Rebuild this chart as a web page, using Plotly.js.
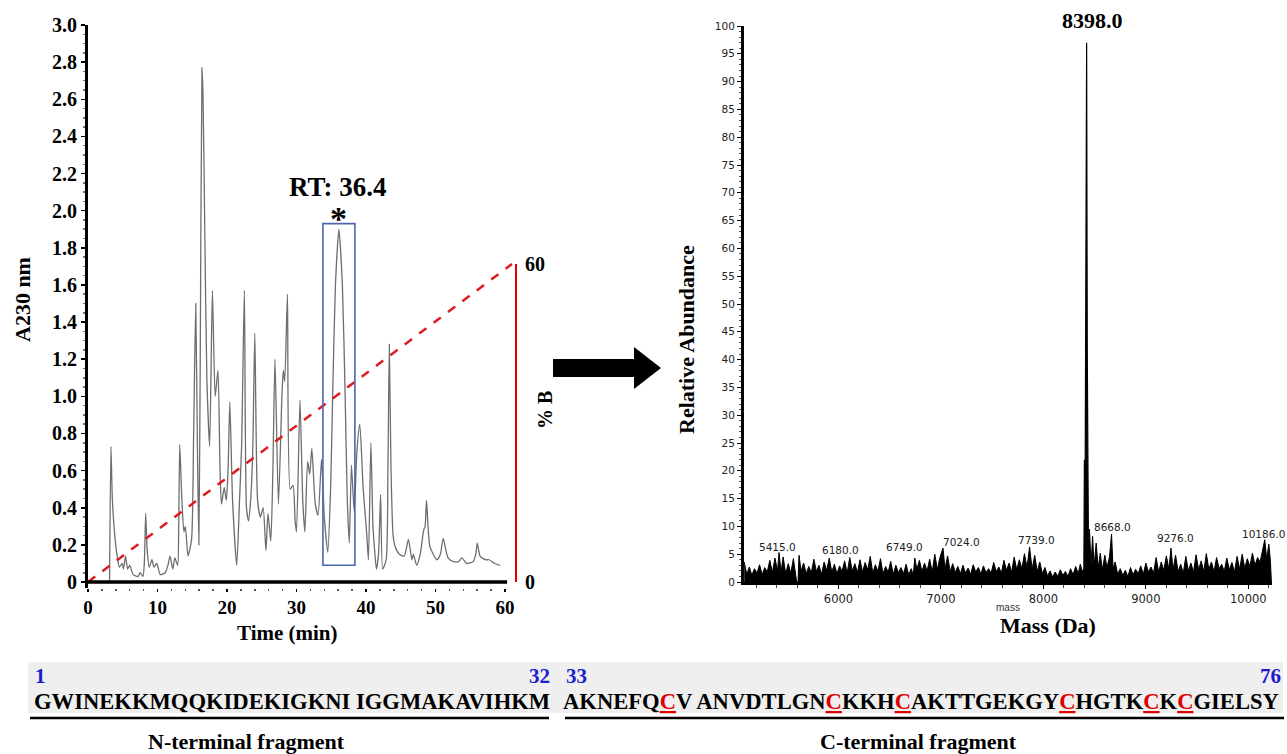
<!DOCTYPE html>
<html><head><meta charset="utf-8">
<script src="https://cdn.plot.ly/plotly-3.0.1.min.js"></script>
<style>html,body{margin:0;padding:0;background:#fff}#chart{width:1287px;height:754px}</style>
</head><body><div id="chart"></div>
<script>
// ---------- HPLC chromatogram (A230 vs time) ----------
const hplcTime = [3.1,3.3,3.5,3.9,4.2,4.5,4.9,5.1,5.4,5.7,6.0,6.5,7.2,7.5,7.9,8.1,8.3,8.5,8.8,9.2,9.5,9.9,10.4,11.1,11.5,11.8,12.2,12.5,12.9,13.05,13.2,13.5,13.8,14.0,14.4,14.9,15.2,15.5,15.75,15.95,16.15,16.4,16.55,16.8,17.1,17.5,17.9,18.3,18.7,19.0,19.2,19.6,19.9,20.15,20.4,20.8,21.4,21.8,22.1,22.5,22.8,23.1,23.4,23.7,24.0,24.4,24.8,25.2,25.6,25.9,26.3,26.6,26.9,27.4,27.9,28.1,28.3,28.7,29.1,29.5,29.8,30.0,30.5,30.9,31.2,31.6,31.9,32.2,32.7,33.1,33.6,34.0,34.5,34.9,35.2,35.6,36.1,36.6,37.0,37.3,37.6,37.9,38.3,38.7,39.1,39.6,40.1,40.35,40.7,41.0,41.2,41.5,41.8,42.1,42.4,42.9,43.15,43.35,43.6,43.9,44.2,44.8,45.5,46.1,46.6,46.8,47.3,47.8,48.3,48.5,48.7,49.2,50.2,50.7,51.1,51.8,52.6,53.3,53.8,54.5,55.4,55.8,56.0,56.4,56.7,57.2,57.7,58.5,59.3];
const hplcAbs  = [0.0,0.73,0.45,0.23,0.14,0.08,0.10,0.07,0.14,0.07,0.09,0.04,0.03,0.05,0.03,0.10,0.37,0.18,0.08,0.12,0.08,0.10,0.04,0.05,0.09,0.14,0.07,0.13,0.09,0.30,0.74,0.45,0.27,0.30,0.14,0.23,0.80,1.50,0.70,0.20,1.20,2.77,2.62,1.90,1.10,0.73,1.57,1.00,1.14,0.60,0.42,0.51,0.44,0.60,0.97,0.44,0.09,0.44,0.73,1.57,0.40,0.33,0.44,0.70,1.34,0.44,0.35,0.40,0.17,0.37,0.22,0.60,1.20,0.42,1.00,1.14,1.08,1.55,0.50,0.52,0.33,0.27,0.98,0.44,0.27,0.65,0.58,0.72,0.42,0.36,0.66,0.35,0.16,0.50,1.00,1.60,1.90,1.60,1.00,0.45,0.21,0.63,0.38,0.71,0.85,0.50,0.26,0.12,0.75,0.30,0.19,0.07,0.15,0.47,0.07,0.12,0.60,1.28,0.60,0.25,0.19,0.15,0.14,0.23,0.12,0.15,0.09,0.15,0.28,0.30,0.44,0.19,0.12,0.15,0.235,0.13,0.11,0.11,0.13,0.10,0.11,0.15,0.21,0.14,0.13,0.12,0.12,0.10,0.09];
// gradient (% B)
const gradTime = [0, 61];
const gradB    = [0, 60];
// highlighted fraction
const boxTime = [33.8, 38.4];
const boxAbs  = [0.09, 1.93];
const rtLabel = 'RT: 36.4';
const absTicks = [0,0.2,0.4,0.6,0.8,1.0,1.2,1.4,1.6,1.8,2.0,2.2,2.4,2.6,2.8,3.0];
const absTickText = ['0','0.2','0.4','0.6','0.8','1.0','1.2','1.4','1.6','1.8','2.0','2.2','2.4','2.6','2.8','3.0'];
const timeTicks = [0,10,20,30,40,50,60];
const bTicks = [0,60];

// ---------- Mass spectrum ----------
const msMass = [5080,5105,5130,5155,5180,5205,5230,5255,5280,5305,5330,5355,5380,5405,5420,5440,5460,5485,5510,5535,5560,5580,5592,5605,5615,5635,5660,5685,5710,5735,5760,5785,5810,5835,5860,5885,5910,5935,5960,5985,6010,6035,6060,6085,6110,6135,6160,6185,6210,6235,6260,6285,6310,6335,6360,6385,6410,6435,6460,6485,6510,6535,6560,6585,6610,6635,6660,6685,6710,6730,6745,6765,6790,6815,6840,6865,6890,6915,6940,6965,6990,7020,7040,7065,7090,7115,7140,7165,7190,7215,7240,7265,7290,7315,7340,7365,7390,7415,7440,7465,7490,7515,7540,7565,7590,7615,7640,7665,7690,7715,7740,7765,7790,7815,7840,7865,7890,7915,7940,7965,7990,8015,8040,8065,8090,8115,8140,8165,8190,8215,8240,8265,8290,8315,8340,8360,8380,8395,8440,8450,8465,8480,8495,8515,8535,8555,8575,8600,8620,8645,8665,8680,8700,8725,8750,8775,8800,8825,8850,8875,8900,8925,8950,8975,9000,9025,9050,9075,9100,9125,9150,9175,9200,9225,9245,9265,9290,9315,9340,9365,9390,9415,9440,9465,9490,9515,9540,9565,9590,9615,9640,9665,9690,9715,9740,9765,9790,9815,9840,9865,9890,9915,9940,9965,9990,10015,10040,10065,10090,10115,10140,10160,10180,10200,10215,10225];
const msInt  = [3.6,1.4,2.7,1.2,2.4,1.6,3.1,1.3,2.6,1.8,3.9,1.7,4.3,2.0,5.3,1.8,4.5,1.5,3.3,1.6,4.2,1.2,0.0,0.0,4.8,2.0,3.4,1.5,2.8,1.7,4.1,1.9,3.0,1.4,3.6,2.1,4.3,1.8,3.2,1.5,2.9,1.9,3.8,1.6,4.4,2.0,3.3,1.7,4.0,1.8,3.5,2.2,4.6,1.6,3.1,1.9,4.2,1.5,2.8,1.8,3.7,1.4,3.0,1.7,2.6,1.5,3.2,1.3,2.4,1.2,4.3,2.3,3.9,1.9,3.4,2.0,4.1,1.8,5.0,2.2,4.4,6.1,2.4,4.7,1.9,3.3,1.7,2.8,1.5,3.0,1.6,2.5,1.4,3.1,1.8,2.6,1.5,2.9,1.7,2.4,1.6,3.5,1.9,2.7,1.6,3.9,2.1,3.4,1.8,4.5,2.2,4.0,2.4,5.1,2.6,6.3,2.3,4.8,1.9,3.6,1.5,2.6,1.1,2.0,0.9,1.8,1.0,2.2,1.2,1.9,1.0,2.4,1.3,2.8,1.5,3.2,1.8,2.5,4.5,9.5,3.0,8.2,2.8,7.0,2.5,5.2,2.2,4.8,2.6,4.5,8.6,2.4,3.6,1.4,2.4,1.2,2.1,1.0,2.6,1.3,2.3,1.5,2.9,1.4,3.4,1.8,2.7,1.6,4.4,1.8,3.6,2.1,4.7,2.3,6.1,2.2,4.8,1.9,3.2,1.6,4.6,2.0,3.4,1.8,4.9,2.2,3.8,1.9,5.1,2.3,3.6,1.8,4.4,2.4,3.2,1.9,4.3,2.2,3.5,1.8,4.6,2.3,5.0,2.5,4.2,2.8,5.2,3.0,4.4,3.6,6.0,7.6,4.1,6.8,3.9,0.0];
const msPeakMass = [8395,8400,8404,8408,8414,8422,8428,8433,8440];
const msPeakInt  = [2.5,22,20,22,45,97,42,12,4.5];
const msLabelText = ['5415.0','6180.0','6749.0','7024.0','7739.0','8668.0','9276.0','10186.0'];
const msLabelMass = [5409,6024,6649,7205,7928,8679,9285,10144];
const msLabelInt  = [6.3,5.75,6.3,7.2,7.55,9.9,7.9,8.6];
const basePeakText = '8398.0';
const basePeakMass = 8484;
const massTicks = [6000,7000,8000,9000,10000];
const massTickText = ['6000','7000','8000','9000','10000'];

// ---------- Sequence ----------
const seqN = 'GWINEKKMQQKIDEKIGKNI IGGMAKAVIHKM';
const seqC = 'AKNEFQCV ANVDTLGNCKKHCAKTTGEKGYCHGTKCKCGIELSY';
const resNum = ['1','32','33','76'];
const fragNames = ['N-terminal fragment','C-terminal fragment'];

// ---------- helpers ----------
const W = 1287, H = 754;
const PX = x => x / W, PY = y => 1 - y / H;
const SERIF = 'Liberation Serif, Times New Roman, serif';
const SANS = 'Liberation Sans, Arial, sans-serif';
const bold = (s, c) => ({family: SERIF, size: s, color: c || '#000', weight: 700});

const markCys = s => s.replace(/C/g, '<span style="color:#e00000;text-decoration:underline">C</span>');

const traces = [
  {x: hplcTime, y: hplcAbs, xaxis: 'x', yaxis: 'y', mode: 'lines', type: 'scatter',
   line: {color: '#6e6e6e', width: 1.3, shape: 'spline', smoothing: 0.6}, hoverinfo: 'skip'},
  {x: gradTime, y: gradB, xaxis: 'x', yaxis: 'y2', mode: 'lines', type: 'scatter',
   line: {color: '#dd1c1c', width: 2.5, dash: 'dash'}, hoverinfo: 'skip'},
  {x: msMass, y: msInt, xaxis: 'x2', yaxis: 'y3', mode: 'lines', type: 'scatter',
   fill: 'tozeroy', fillcolor: '#000', line: {color: '#000', width: 1}, hoverinfo: 'skip'},
  {x: msPeakMass, y: msPeakInt, xaxis: 'x2', yaxis: 'y3', mode: 'lines', type: 'scatter',
   fill: 'tozeroy', fillcolor: '#000', line: {color: '#000', width: 1.2}, hoverinfo: 'skip'}
];

const arrowPts = [[553,359],[634,359],[634,347],[661,368],[634,389],[634,377],[553,377]];
const arrowPath = 'M' + arrowPts.map(p => PX(p[0]).toFixed(5) + ',' + PY(p[1]).toFixed(5)).join(' L') + ' Z';

const shapes = [
  {type: 'line', xref: 'x', yref: 'y', x0: 0, x1: 60.3, y0: 0, y1: 0, line: {color: '#000', width: 3.5}},
  {type: 'line', xref: 'paper', yref: 'y2', x0: PX(516), x1: PX(516), y0: 0, y1: 60, line: {color: '#e00000', width: 2}},
  {type: 'rect', xref: 'x', yref: 'y', x0: boxTime[0], x1: boxTime[1], y0: boxAbs[0], y1: boxAbs[1], line: {color: '#4a66b0', width: 1.6}},
  {type: 'path', xref: 'paper', yref: 'paper', path: arrowPath, fillcolor: '#000', line: {color: '#000', width: 0}},
  {type: 'rect', xref: 'paper', yref: 'paper', x0: PX(28), x1: PX(1283), y0: PY(713), y1: PY(662), fillcolor: '#efefef', line: {width: 0}, layer: 'below'},
  {type: 'line', xref: 'paper', yref: 'paper', x0: PX(30), x1: PX(549), y0: PY(718), y1: PY(718), line: {color: '#000', width: 2.5}},
  {type: 'line', xref: 'paper', yref: 'paper', x0: PX(565), x1: PX(1284), y0: PY(718), y1: PY(718), line: {color: '#000', width: 2.5}}
];

const ann = [];
const A = (o) => ann.push(Object.assign({showarrow: false, xanchor: 'center', yanchor: 'middle'}, o));
A({text: 'A230 nm', xref: 'paper', yref: 'paper', x: PX(22), y: PY(300), textangle: -90, font: bold(22)});
A({text: 'Time (min)', xref: 'paper', yref: 'paper', x: PX(287), y: PY(633), font: bold(21)});
A({text: '% B', xref: 'paper', yref: 'paper', x: PX(545), y: PY(410), textangle: -90, font: bold(20)});
A({text: rtLabel, xref: 'x', yref: 'y', x: 35.9, y: 2.13, font: bold(27)});
A({text: '*', xref: 'x', yref: 'y', x: 36.0, y: 1.96, font: bold(34)});
A({text: 'Relative Abundance', xref: 'paper', yref: 'paper', x: PX(687), y: PY(340), textangle: -90, font: bold(22)});
A({text: 'Mass (Da)', xref: 'paper', yref: 'paper', x: PX(1048), y: PY(625), font: bold(22)});
A({text: 'mass', xref: 'paper', yref: 'paper', x: PX(1008), y: PY(607), font: {family: SANS, size: 10, color: '#333'}});
A({text: basePeakText, xref: 'x2', yref: 'paper', x: basePeakMass, y: PY(20), font: bold(22)});
msLabelText.forEach((t, i) => A({text: t, xref: 'x2', yref: 'y3', x: msLabelMass[i], y: msLabelInt[i],
  font: {family: 'DejaVu Sans, sans-serif', size: 10.5, color: '#222'}}));
// sequence
A({text: resNum[0], xref: 'paper', yref: 'paper', x: PX(33), y: PY(676), xanchor: 'left', font: bold(21, '#1c1cd0')});
A({text: resNum[1], xref: 'paper', yref: 'paper', x: PX(552), y: PY(676), xanchor: 'right', font: bold(21, '#1c1cd0')});
A({text: resNum[2], xref: 'paper', yref: 'paper', x: PX(564), y: PY(676), xanchor: 'left', font: bold(21, '#1c1cd0')});
A({text: resNum[3], xref: 'paper', yref: 'paper', x: PX(1283), y: PY(676), xanchor: 'right', font: bold(21, '#1c1cd0')});
A({text: markCys(seqN), xref: 'paper', yref: 'paper', x: PX(32), y: PY(701), xanchor: 'left', font: bold(22.6)});
A({text: markCys(seqC), xref: 'paper', yref: 'paper', x: PX(561), y: PY(701), xanchor: 'left', font: bold(22.6)});
A({text: fragNames[0], xref: 'paper', yref: 'paper', x: PX(247), y: PY(741), font: bold(22)});
A({text: fragNames[1], xref: 'paper', yref: 'paper', x: PX(918), y: PY(741), font: bold(22)});

const layout = {
  width: W, height: H, margin: {l: 0, r: 0, t: 0, b: 0},
  paper_bgcolor: '#fff', plot_bgcolor: 'rgba(0,0,0,0)', showlegend: false,
  xaxis: {domain: [PX(88), PX(516)], range: [0, 61.58], anchor: 'y', showgrid: false, zeroline: false, showline: false,
    tickmode: 'array', tickvals: timeTicks, ticks: 'outside', ticklen: 3, tickwidth: 1.5, tickcolor: '#000',
    minor: {tickmode: 'linear', tick0: 0, dtick: 2, ticks: 'outside', ticklen: 2, tickcolor: '#555'},
    tickfont: bold(19)},
  yaxis: {domain: [PY(587.6), PY(25)], range: [-0.03, 3.0], anchor: 'x', showgrid: false, zeroline: false,
    showline: true, linewidth: 3, linecolor: '#000',
    tickmode: 'array', tickvals: absTicks, ticktext: absTickText, ticks: 'outside', ticklen: 4, tickwidth: 1.5, tickcolor: '#000',
    minor: {tickmode: 'linear', tick0: 0, dtick: 0.05, ticks: 'outside', ticklen: 2, tickcolor: '#777'},
    tickfont: bold(20)},
  yaxis2: {overlaying: 'y', anchor: 'x', side: 'right', range: [-1.06, 105.1], showgrid: false, zeroline: false,
    showline: false, tickmode: 'array', tickvals: bTicks, ticks: '', ticklabelstandoff: 8, tickfont: bold(20)},
  xaxis2: {domain: [PX(744), PX(1272)], range: [5078, 10231], anchor: 'y3', showgrid: false, zeroline: false,
    showline: true, linewidth: 3, linecolor: '#000',
    tickmode: 'array', tickvals: massTicks, ticktext: massTickText, ticks: 'outside', ticklen: 4, tickcolor: '#000',
    minor: {tickmode: 'linear', tick0: 5000, dtick: 200, ticks: 'outside', ticklen: 3, tickcolor: '#444'},
    tickfont: {family: 'DejaVu Sans, sans-serif', size: 11.5, color: '#222'}},
  yaxis3: {domain: [PY(582), PY(26)], range: [0, 100], anchor: 'x2', showgrid: false, zeroline: false,
    showline: true, linewidth: 3, linecolor: '#000',
    tickmode: 'linear', tick0: 0, dtick: 5, ticks: 'outside', ticklen: 4, tickcolor: '#000',
    minor: {tickmode: 'linear', tick0: 0, dtick: 1, ticks: 'outside', ticklen: 2, tickcolor: '#555'},
    tickfont: {family: 'DejaVu Sans, sans-serif', size: 10.5, color: '#222'}},
  shapes: shapes,
  annotations: ann
};

Plotly.newPlot('chart', traces, layout, {staticPlot: true, displayModeBar: false});
</script></body></html>
